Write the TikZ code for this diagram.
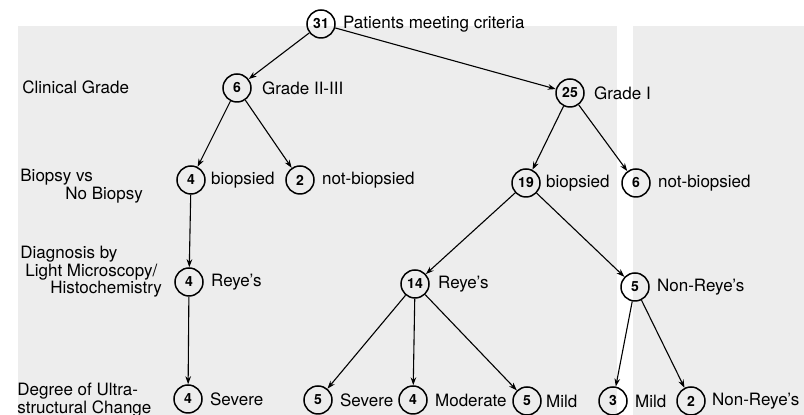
\documentclass[tikz,border=0pt]{standalone}
\usepackage{fontspec}
\setmainfont{TeX Gyre Heros}
\usetikzlibrary{positioning,arrows.meta}

\definecolor{paper}{gray}{0.93}

\tikzset{
  count/.style={draw,circle,minimum size=14pt,inner sep=0pt,line width=0.75pt,font=\fontsize{7}{8}\selectfont\bfseries},
  tag/.style={inner sep=0pt,font=\fontsize{8.5}{9}\selectfont},
  level/.style={anchor=west,inner sep=0pt,align=left,font=\fontsize{8.5}{8.8}\selectfont},
  flow/.style={-{Stealth[length=4pt,width=2.8pt]},line width=0.55pt},
}

\begin{document}
\begin{tikzpicture}[x=0.5pt,y=-0.5pt]
\useasboundingbox (0,0) rectangle (804,415);

% PAPER
\fill[paper] (18,26) rectangle (804,415);
\fill[white] (617,20) rectangle (633,415);

% LEVEL NAMES
\node[level] (lgrade) at (22,87) {Clinical Grade};
\node[level] (lbiop) at (20,186) {Biopsy vs\\\hspace*{22.5pt}No Biopsy};
\node[level] (ldiag) at (20,272) {Diagnosis by\\\hspace*{2.5pt}Light Microscopy/\\\hspace*{15pt}Histochemistry};
\node[level] (lultra) at (17,400) {Degree of Ultra-\\structural Change};

% ROOT
\node[count] (p31) at (321,24) {31};
\node[tag,right=3.5pt of p31] (t31) {Patients meeting criteria};

% CLINICAL GRADE
\node[count] (g6) at (237,88) {6};
\node[tag,right=5pt of g6] (tg6) {Grade II-III};
\node[count] (g25) at (570,93) {25};
\node[tag,right=4.5pt of g25] (tg25) {Grade I};

% BIOPSY
\node[count] (b4) at (191,180) {4};
\node[tag,right=2.5pt of b4] (tb4) {biopsied};
\node[count] (n2) at (300,180) {2};
\node[tag,right=3.5pt of n2] (tn2) {not-biopsied};
\node[count] (b19) at (526,183) {19};
\node[tag,right=2.5pt of b19] (tb19) {biopsied};
\node[count] (n6) at (636,183) {6};
\node[tag,right=3.5pt of n6] (tn6) {not-biopsied};

% LIGHT MICROSCOPY
\node[count] (r4) at (189,282) {4};
\node[tag,right=3.5pt of r4] (tr4) {Reye's};
\node[count] (r14) at (415,284) {14};
\node[tag,right=4pt of r14] (tr14) {Reye's};
\node[count] (x5) at (635,287) {5};
\node[tag,right=3.5pt of x5] (tx5) {Non-Reye's};

% ULTRASTRUCTURE
\node[count] (s4) at (188,399) {4};
\node[tag,right=3.5pt of s4] (ts4) {Severe};
\node[count] (s5) at (318,400) {5};
\node[tag,right=3.5pt of s5] (ts5) {Severe};
\node[count] (m4) at (413,400) {4};
\node[tag,right=3.5pt of m4] (tm4) {Moderate};
\node[count] (d5) at (527,401) {5};
\node[tag,right=2pt of d5] (td5) {Mild};
\node[count] (d3) at (613,401) {3};
\node[tag,right=3.5pt of d3] (td3) {Mild};
\node[count] (y2) at (691,401) {2};
\node[tag,right=3pt of y2] (ty2) {Non-Reye's};

% ARROWS
\draw[flow] (p31) -- (g6);
\draw[flow] (p31) -- (g25);
\draw[flow] (g6) -- (b4);
\draw[flow] (g6) -- (n2);
\draw[flow] (g25) -- (b19);
\draw[flow] (g25) -- (n6);
\draw[flow] (b4) -- (r4);
\draw[flow] (b19) -- (r14);
\draw[flow] (b19) -- (x5);
\draw[flow] (r4) -- (s4);
\draw[flow] (r14) -- (s5);
\draw[flow] (r14) -- (m4);
\draw[flow] (r14) -- (d5);
\draw[flow] (x5) -- (d3);
\draw[flow] (x5) -- (y2);

\end{tikzpicture}
\end{document}
